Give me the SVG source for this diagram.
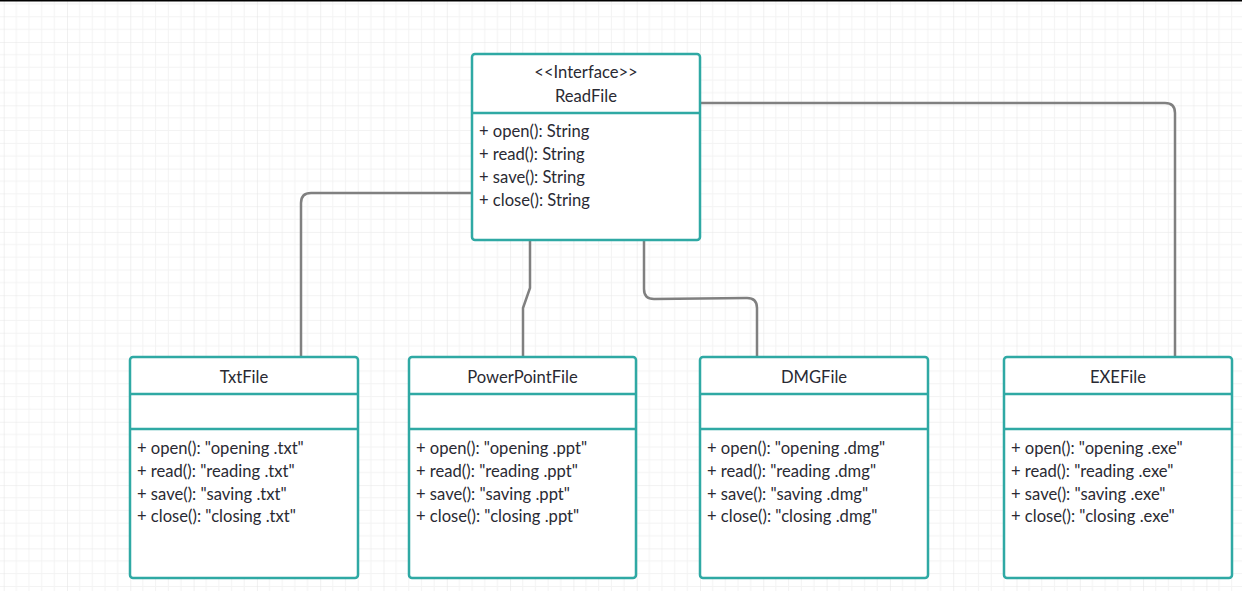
<svg xmlns="http://www.w3.org/2000/svg" width="1242" height="591" viewBox="0 0 1242 591">
<style>
.box{fill:#fff;stroke:#2fa9a4;stroke-width:2.5}
.div{stroke:#2fa9a4;stroke-width:2.5}
.t{font-family:Lato,"Open Sans","Liberation Sans",sans-serif;font-size:16.6px;fill:#2a2a33}
.c{text-anchor:middle}
.conn{fill:none;stroke:#808080;stroke-width:2.5}
</style>
<defs>
<pattern id="grid" patternUnits="userSpaceOnUse" x="3.7" y="-21.3" width="63.3" height="63.3">
<path d="M12.66 0V63.3M25.32 0V63.3M37.98 0V63.3M50.64 0V63.3M0 12.66H63.3M0 25.32H63.3M0 37.98H63.3M0 50.64H63.3" stroke="#f3f3f3" stroke-width="1" fill="none"/>
<path d="M0 0V63.3M0 0H63.3" stroke="#e6e6e6" stroke-width="1.2" fill="none"/>
</pattern>
</defs>
<rect width="1242" height="591" fill="#fff"/>
<rect width="1242" height="591" fill="url(#grid)"/>
<rect width="1242" height="1.5" fill="#000"/>
<g id="connectors">
<path class="conn" d="M472 193H311Q301 193 301 203V357"/>
<path class="conn" d="M530 240V288L523 308V357"/>
<path class="conn" d="M644 240V289Q644 299 654 299L747 298Q757 298 757 308V357"/>
<path class="conn" d="M700 103H1165Q1175 103 1175 113V357"/>
</g>
<g id="ReadFile">
<rect class="box" x="472" y="54" width="228" height="186" rx="3"/>
<line class="div" x1="472" y1="113" x2="700" y2="113"/>
<text class="t c" x="586" y="78">&lt;&lt;Interface&gt;&gt;</text>
<text class="t c" x="586" y="101.5">ReadFile</text>
<text class="t" x="479" y="137">+ open(): String</text>
<text class="t" x="479" y="160">+ read(): String</text>
<text class="t" x="479" y="183">+ save(): String</text>
<text class="t" x="479" y="205.5">+ close(): String</text>
</g>
<g id="TxtFile">
<rect class="box" x="130" y="357" width="228" height="221" rx="3"/>
<line class="div" x1="130" y1="394" x2="358" y2="394"/>
<line class="div" x1="130" y1="429" x2="358" y2="429"/>
<text class="t c" x="244" y="382.5">TxtFile</text>
<text class="t" x="137" y="454">+ open(): "opening .txt"</text>
<text class="t" x="137" y="477">+ read(): "reading .txt"</text>
<text class="t" x="137" y="500">+ save(): "saving .txt"</text>
<text class="t" x="137" y="522">+ close(): "closing .txt"</text>
</g>
<g id="PowerPointFile">
<rect class="box" x="409" y="357" width="227" height="221" rx="3"/>
<line class="div" x1="409" y1="394" x2="636" y2="394"/>
<line class="div" x1="409" y1="429" x2="636" y2="429"/>
<text class="t c" x="522.5" y="382.5">PowerPointFile</text>
<text class="t" x="416" y="454">+ open(): "opening .ppt"</text>
<text class="t" x="416" y="477">+ read(): "reading .ppt"</text>
<text class="t" x="416" y="500">+ save(): "saving .ppt"</text>
<text class="t" x="416" y="522">+ close(): "closing .ppt"</text>
</g>
<g id="DMGFile">
<rect class="box" x="700" y="357" width="228" height="221" rx="3"/>
<line class="div" x1="700" y1="394" x2="928" y2="394"/>
<line class="div" x1="700" y1="429" x2="928" y2="429"/>
<text class="t c" x="814" y="382.5">DMGFile</text>
<text class="t" x="707" y="454">+ open(): "opening .dmg"</text>
<text class="t" x="707" y="477">+ read(): "reading .dmg"</text>
<text class="t" x="707" y="500">+ save(): "saving .dmg"</text>
<text class="t" x="707" y="522">+ close(): "closing .dmg"</text>
</g>
<g id="EXEFile">
<rect class="box" x="1004" y="357" width="228" height="221" rx="3"/>
<line class="div" x1="1004" y1="394" x2="1232" y2="394"/>
<line class="div" x1="1004" y1="429" x2="1232" y2="429"/>
<text class="t c" x="1118" y="382.5">EXEFile</text>
<text class="t" x="1011" y="454">+ open(): "opening .exe"</text>
<text class="t" x="1011" y="477">+ read(): "reading .exe"</text>
<text class="t" x="1011" y="500">+ save(): "saving .exe"</text>
<text class="t" x="1011" y="522">+ close(): "closing .exe"</text>
</g>
</svg>
